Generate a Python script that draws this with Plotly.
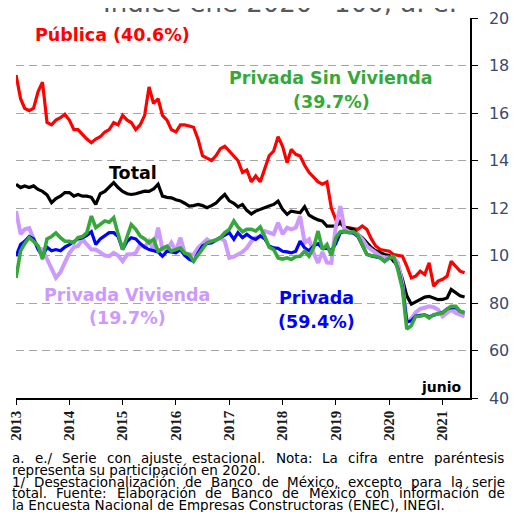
import pandas as pd
import plotly.graph_objects as go

start_month = "2013-01-01"
n_months = 102  # Jan 2013 .. Jun 2021

publica = [176, 166, 162, 161, 162, 169, 173, 156, 155, 157, 158, 159.5, 157, 153, 153, 151, 149, 147.5,
           149, 150, 152, 153, 156, 155, 159, 157, 156, 153, 155, 159, 171, 164, 166, 159, 157, 153,
           152, 155, 155, 154.5, 154, 149, 142, 141, 140, 142, 145, 146, 144, 142, 140, 135, 136, 131,
           133.5, 131, 137, 142, 144, 150, 146, 139, 144.7, 142.6, 141.9, 138, 135, 133, 131, 130, 131,
           120, 115, 114.5, 112, 111.7, 111.5, 111, 112.4, 111, 107, 104, 102.5, 102, 101.8, 100.4, 100,
           99.7, 95.5, 90.6, 91.3, 93.4, 92, 96.9, 87.1, 89.2, 90, 91.3, 97.6, 95.5, 93.4, 92.7]

total = [130, 128.6, 129.3, 128.6, 129.3, 127.8, 127, 125.5, 122.2, 124, 125, 126.5, 126.5, 125, 125.7,
         125, 125, 124.5, 121.5, 126, 127, 129, 130.7, 128.6, 127, 126, 125.7, 126, 126.5, 127.1, 127,
         128, 130, 125, 124.5, 124.3, 123.5, 123, 122, 120.8, 121, 121.5, 121, 120.1, 121, 122, 124,
         125.7, 123, 122, 120.5, 121.5, 119, 117.5, 118.7, 119.5, 120.1, 120.8, 121.5, 122.9, 119.4,
         117.3, 118.7, 118.5, 118, 120.5, 117, 115.9, 115, 114.5, 112.4, 112.4, 112.5, 113.8, 111.7,
         111.5, 111, 108.9, 107.5, 105.4, 103.3, 102, 101, 100.4, 100, 97.5, 96, 90, 83, 79.5, 80.5,
         81.4, 82.5, 82.8, 82, 81.4, 81.5, 82.1, 85.7, 84.3, 83, 82.5]

privada_sin_vivienda = [90.6, 102, 105, 107.5, 106, 104, 98.5, 107, 108, 109.5, 107.5, 106, 106, 105.4,
                        107.5, 108, 109.6, 116.6, 111.7, 113, 114.5, 114, 115.9, 109, 102.5, 108, 113,
                        111, 108.2, 107, 105.4, 106.8, 101.8, 103, 103.9, 101.8, 102.5, 103.2, 101,
                        100.4, 97.6, 100.4, 103, 105.4, 106, 106.5, 107.5, 109.6, 111, 114.5, 112, 110,
                        111, 111, 110.3, 112, 108, 103.5, 102.5, 99, 98.5, 99, 98.3, 99.5, 99.7, 101.8,
                        99.7, 103.2, 110.3, 102.5, 104.6, 100, 107.5, 110, 110.3, 109.6, 110, 108.5,
                        104.6, 100.4, 100, 99.7, 99, 97.6, 99, 99.5, 94, 86, 69, 70.5, 74.4, 74.4, 75,
                        73.7, 75.1, 75.5, 75.8, 77.5, 78.6, 78.6, 76.5, 75.8]

privada = [99.7, 104.6, 106, 108, 107, 102.5, 99.7, 103.5, 102, 102.5, 102, 103.5, 104.6, 106, 107,
           107.5, 108.5, 110, 104.6, 107, 108.5, 109.6, 109.6, 108, 102.5, 106, 107.5, 107, 105,
           103.5, 102.5, 102, 101.5, 99.7, 101.8, 101.5, 101.1, 102.5, 100, 98.5, 97.5, 101, 104,
           105, 105.4, 106.5, 107.5, 108.5, 109.6, 106.8, 109.6, 107.5, 108.9, 107.5, 106.8, 108.2,
           107, 104, 103.2, 103, 101.8, 101.5, 101.1, 101.8, 106, 103.2, 102, 104, 105, 103, 103,
           102, 105, 109.6, 110, 109.6, 109.5, 108, 104.5, 100.5, 99.8, 99.5, 99, 97.5, 99, 99,
           94.5, 87, 72, 72.5, 74.5, 74.8, 75, 74.2, 75, 75.5, 76, 77.5, 78, 78, 76.5, 76]

privada_vivienda = [118.7, 109, 111, 111.5, 107, 103.2, 102.5, 98, 94.5, 90.6, 93, 97, 101, 103.5, 104,
                    106.8, 104.5, 102.5, 102.5, 101, 100, 99.7, 101.1, 100, 97.6, 100.4, 100.5, 101.1,
                    104.6, 103.5, 106, 102.5, 111.7, 102.5, 102.5, 105.4, 101.8, 107.5, 101.1, 100.4,
                    100.4, 103.2, 105, 106.8, 105.4, 106.5, 107.5, 106, 99, 99.5, 100.4, 101.5, 103.2,
                    106, 107.5, 108.2, 110.3, 109.5, 109, 113.8, 109, 111.7, 111, 111.7, 116.6, 105.4,
                    106.8, 101.1, 96.9, 101.5, 97, 96.9, 112.4, 120.8, 111, 110, 109.6, 108.9, 106.8,
                    104, 102.5, 101, 99.7, 99.3, 99, 99, 97, 88, 72, 73.5, 76, 77.5, 78, 78.6, 78.2,
                    77.2, 74.4, 75.8, 77.2, 75.8, 75, 74.4]

year_labels = ["2013", "2014", "2015", "2016", "2017", "2018", "2019", "2020", "2021"]

notes = [
    "a. e./ Serie con ajuste estacional. Nota: La cifra entre paréntesis",
    "representa su participación en 2020.",
    "1/ Desestacionalización de Banco de México, excepto para la serie",
    "total. Fuente: Elaboración de Banco de México con información de",
    "la Encuesta Nacional de Empresas Constructoras (ENEC), INEGI.",
]
notes_justified = [True, False, True, True, False]

dates = pd.date_range(start_month, periods=n_months, freq="MS")

C_RED = "#FF0000"
C_BLACK = "#000000"
C_GREEN = "#36A83A"
C_BLUE = "#0000FF"
C_PURPLE = "#CC99FF"

fig = go.Figure()
fig.add_trace(go.Scatter(x=dates, y=publica, mode="lines", line=dict(color=C_RED, width=3.2)))
fig.add_trace(go.Scatter(x=dates, y=total, mode="lines", line=dict(color=C_BLACK, width=3.2)))
fig.add_trace(go.Scatter(x=dates, y=privada_vivienda, mode="lines", line=dict(color=C_PURPLE, width=4)))
fig.add_trace(go.Scatter(x=dates, y=privada, mode="lines", line=dict(color=C_BLUE, width=3.2)))
fig.add_trace(go.Scatter(x=dates, y=privada_sin_vivienda, mode="lines", line=dict(color=C_GREEN, width=3.6)))

# page body has an 8px margin: work in screen pixels and convert
OFF = 8
W, H = 517, 512
X0, X1, Y0, Y1 = 16, 470, 18, 398  # plot area on screen
L, T = X0 - OFF, Y0 - OFF
R, B = W - (X1 - OFF), H - (Y1 - OFF)
PW = X1 - X0
PH = Y1 - Y0


def px(x):
    return (x - X0) / PW


def py(y):
    return (Y1 - y) / PH


ann = []
BOLD = "DejaVu Sans"


def label(text, x, y, color, size=17.5):
    ann.append(dict(text="<b>%s</b>" % text, x=px(x), y=py(y), xref="paper", yref="paper",
                    showarrow=False, xanchor="center", yanchor="middle",
                    font=dict(family=BOLD, size=size, color=color)))


label("Pública (40.6%)", 112, 35, C_RED)
label("Total", 133, 173, C_BLACK)
label("Privada Sin Vivienda", 331, 78, C_GREEN)
label("(39.7%)", 331, 102, C_GREEN)
label("Privada Vivienda", 127, 295, C_PURPLE)
label("(19.7%)", 127, 318, C_PURPLE)
label("Privada", 316, 298, C_BLUE)
label("(59.4%)", 316, 322, C_BLUE)
label("junio", 441, 387, C_BLACK, size=14)

# title (cut at top of image)
ann.append(dict(text="Índice ene 2020=100, a. e. <sup>1/</sup>", x=px(101), y=py(20), xref="paper", yref="paper",
                showarrow=False, xanchor="left", yanchor="bottom",
                font=dict(family="DejaVu Sans", size=26, color="#595959")))

# footnote, justified like the original
WID = {' ': .318, '.': .318, ',': .318, ':': .337, '/': .337, '(': .390, ')': .390,
       'a': .613, 'b': .635, 'c': .550, 'd': .635, 'e': .615, 'f': .352, 'g': .635, 'h': .634,
       'i': .278, 'j': .278, 'k': .579, 'l': .278, 'm': .974, 'n': .634, 'o': .612, 'p': .635,
       'q': .635, 'r': .411, 's': .521, 't': .392, 'u': .634, 'v': .592, 'w': .818, 'x': .592,
       'y': .592, 'z': .525, 'á': .613, 'é': .615, 'ó': .612, 'í': .278,
       'A': .684, 'B': .686, 'C': .698, 'D': .770, 'E': .632, 'F': .575, 'G': .775, 'I': .295,
       'L': .557, 'M': .863, 'N': .748, 'P': .603, 'S': .635}
FS = 13.5
LEFT, RIGHT = 12, 505


def wwidth(word):
    return sum(WID.get(c, .636) for c in word) * FS


for k, line in enumerate(notes):
    yy = py(458 + k * 11.8)
    if notes_justified[k]:
        words = line.split(" ")
        widths = [wwidth(w) for w in words]
        gap = (RIGHT - LEFT - sum(widths)) / (len(words) - 1)
        xcur = LEFT
        for w, wd in zip(words, widths):
            ann.append(dict(text=w, x=px(xcur - 2), y=yy, xref="paper", yref="paper",
                            showarrow=False, xanchor="left", yanchor="middle",
                            font=dict(family="DejaVu Sans", size=FS, color="#000000")))
            xcur += wd + gap
    else:
        ann.append(dict(text=line, x=px(LEFT - 2), y=yy, xref="paper", yref="paper",
                        showarrow=False, xanchor="left", yanchor="middle",
                        font=dict(family="DejaVu Sans", size=FS, color="#000000")))

fig.update_layout(
    width=W, height=H,
    margin=dict(l=L, r=R, t=T, b=B, autoexpand=False),
    paper_bgcolor="white", plot_bgcolor="white",
    showlegend=False,
    annotations=ann,
    xaxis=dict(
        type="date",
        automargin=False,
        range=["2012-12-31 12:00", "2021-07-08"],
        tickvals=[pd.Timestamp(y + "-01-01") for y in year_labels],
        ticktext=["<b>%s</b>" % y for y in year_labels],
        tickangle=-90,
        ticklabeloverflow="allow",
        ticks="outside", ticklen=5, tickcolor="black", tickwidth=1.3,
        showline=True, linecolor="black", linewidth=1.5,
        showgrid=False, zeroline=False,
        tickfont=dict(family="Liberation Serif", size=15, color="#1a1a1a"),
    ),
    yaxis=dict(
        side="right",
        automargin=False,
        range=[40, 200],
        dtick=20, tick0=40,
        ticks="outside", ticklen=6, tickcolor="black", tickwidth=1.3,
        ticklabelstandoff=8,
        ticklabeloverflow="allow",
        showline=True, linecolor="black", linewidth=1.5,
        showgrid=True, gridcolor="#A6A6A6", gridwidth=1.3, griddash="8px,5px",
        zeroline=False,
        tickfont=dict(family="DejaVu Sans", size=16, color="#3B4A6B"),
    ),
)

fig.write_html("out.html")
